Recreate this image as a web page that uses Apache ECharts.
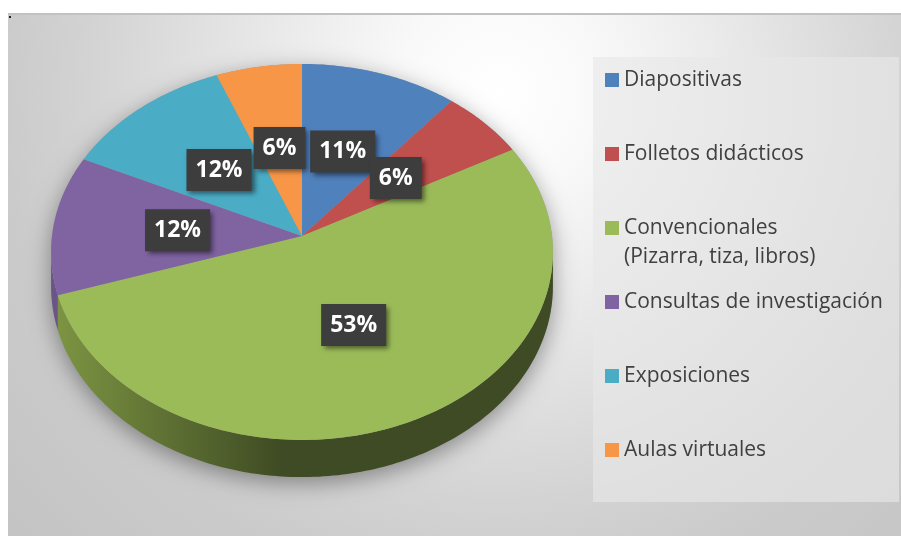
<!DOCTYPE html>
<html>
<head>
<meta charset="utf-8">
<script src="https://cdn.jsdelivr.net/npm/echarts@6/dist/echarts.min.js"></script>
<style>
html,body{margin:0;padding:0;background:#ffffff;}
#chart{width:901px;height:536px;}
</style>
</head>
<body>
<div id="chart"></div>
<script>
// ---- data ----
const categories = ['Diapositivas', 'Folletos didácticos', 'Convencionales (Pizarra, tiza, libros)', 'Consultas de investigación', 'Exposiciones', 'Aulas virtuales'];
const values = [11, 6, 53, 12, 12, 6];

// ---- styles ----
const sliceColors = ['#4f81bd', '#c0504d', '#9bbb59', '#8064a2', '#4bacc6', '#f79646'];
const wallLight = ['#5a7fb0', '#9c4542', '#7c9442', '#6a5488', '#3f93aa', '#d07a36'];
const wallDark = ['#2c4770', '#6a2b29', '#3f4b24', '#463758', '#245f70', '#8a4f1f'];

// ---- 3D pie geometry (perspective projection of a disc) ----
const CX = 302, CY = 236, RX = 250, RY = 186.6, K = 0.085, DEPTH = 34;
const FRONT0 = Math.acos(-K), FRONT1 = 2 * Math.PI - FRONT0;
const total = values.reduce((a, b) => a + b, 0);

function proj(theta, r, dz) {
  const u = r * Math.sin(theta), v = r * Math.cos(theta);
  const s = 1 / (1 + K * v);
  return [CX + RX * u * s, CY - RY * v * s + dz * s];
}
function arc(a0, a1, r, dz) {
  const n = Math.max(2, Math.ceil((a1 - a0) / (Math.PI / 180)));
  const pts = [];
  for (let j = 0; j <= n; j++) pts.push(proj(a0 + (a1 - a0) * j / n, r, dz));
  return pts;
}

function makeRender(i) {
  return function (params, api) {
    let start = 0;
    for (let k = 0; k < i; k++) start += values[k];
    const val = api.value(0);
    const a0 = start / total * 2 * Math.PI;
    const a1 = (start + val) / total * 2 * Math.PI;
    const children = [];

    if (i === 0) {
      // soft shadow under the whole disc
      const sil = arc(FRONT1, 2 * Math.PI + FRONT0, 1, 0).concat(arc(FRONT0, FRONT1, 1, DEPTH));
      children.push({
        type: 'polygon', z2: 0, silent: true,
        shape: { points: sil },
        style: { fill: '#9a9a9a', shadowBlur: 22, shadowColor: 'rgba(0,0,0,0.38)', shadowOffsetY: 6 }
      });
    }

    // side wall (front-facing part only)
    const f0 = Math.max(a0, FRONT0), f1 = Math.min(a1, FRONT1);
    if (f1 > f0) {
      const top = arc(f0, f1, 1, 0);
      const bot = arc(f0, f1, 1, DEPTH).reverse();
      children.push({
        type: 'polygon', z2: 2,
        shape: { points: top.concat(bot) },
        style: {
          fill: {
            type: 'linear', global: true, x: CX - RX + 5, y: 0, x2: CX - 20, y2: 0,
            colorStops: [{ offset: 0, color: wallLight[i] }, { offset: 1, color: wallDark[i] }]
          }
        }
      });
    }

    // top face
    children.push({
      type: 'polygon', z2: 10,
      shape: { points: [proj(0, 0, 0)].concat(arc(a0, a1, 1, 0)) },
      style: { fill: api.visual('color') }
    });

    // data label
    const p = proj((a0 + a1) / 2, 0.5, 0);
    children.push({
      type: 'text', z2: 20, x: p[0], y: p[1],
      style: {
        text: Math.round(val / total * 100) + '%',
        fill: '#ffffff', fontFamily: 'Open Sans', fontWeight: 'bold', fontSize: 23,
        lineHeight: 26, align: 'center', verticalAlign: 'middle',
        backgroundColor: '#3d3d3d', padding: [8, 9, 8, 9],
        shadowBlur: 5, shadowColor: 'rgba(0,0,0,0.5)', shadowOffsetX: 3, shadowOffsetY: 3
      }
    });
    return { type: 'group', children: children };
  };
}

const series = categories.map((name, i) => ({
  type: 'custom',
  name: name,
  coordinateSystem: 'none',
  itemStyle: { color: sliceColors[i] },
  data: [values[i]],
  renderItem: makeRender(i)
}));

const chart = echarts.init(document.getElementById('chart'), null, { renderer: 'canvas' });
chart.setOption({
  animation: false,
  graphic: [
    {
      type: 'rect', z: -10, silent: true,
      shape: { x: 8, y: 14, width: 893, height: 522 },
      style: {
        fill: {
          type: 'radial', x: 0.55, y: 0.15, r: 1.25,
          colorStops: [
            { offset: 0, color: '#ffffff' },
            { offset: 0.15, color: '#f9f9f9' },
            { offset: 0.32, color: '#ececec' },
            { offset: 0.63, color: '#d3d3d3' },
            { offset: 0.76, color: '#cbcbcb' },
            { offset: 1, color: '#c4c4c4' }
          ]
        }
      }
    },
    {
      type: 'line', z: -9, silent: true,
      shape: { x1: 8, y1: 14, x2: 901, y2: 14 },
      style: { stroke: '#c2c2c2', lineWidth: 2 }
    },
    {
      type: 'rect', z: -9, silent: true,
      shape: { x: 9, y: 16, width: 2, height: 2 },
      style: { fill: '#222222' }
    },
    {
      type: 'rect', z: -8, silent: true,
      shape: { x: 593, y: 57, width: 306, height: 445 },
      style: { fill: 'rgba(231,231,231,0.64)' }
    }
  ],
  legend: {
    orient: 'vertical',
    left: 605,
    top: 36.5,
    padding: 0,
    itemWidth: 14,
    itemHeight: 14,
    itemGap: -13,
    icon: 'rect',
    selectedMode: false,
    data: categories,
    formatter: function (name) {
      const idx = name.indexOf(' (');
      if (idx >= 0) return '\n' + name.slice(0, idx) + '\n' + name.slice(idx + 1);
      return '\n' + name + '\n ';
    },
    textStyle: { fontFamily: 'Open Sans', fontSize: 21, color: '#404040', lineHeight: 29 }
  },
  series: series
});
</script>
</body>
</html>
